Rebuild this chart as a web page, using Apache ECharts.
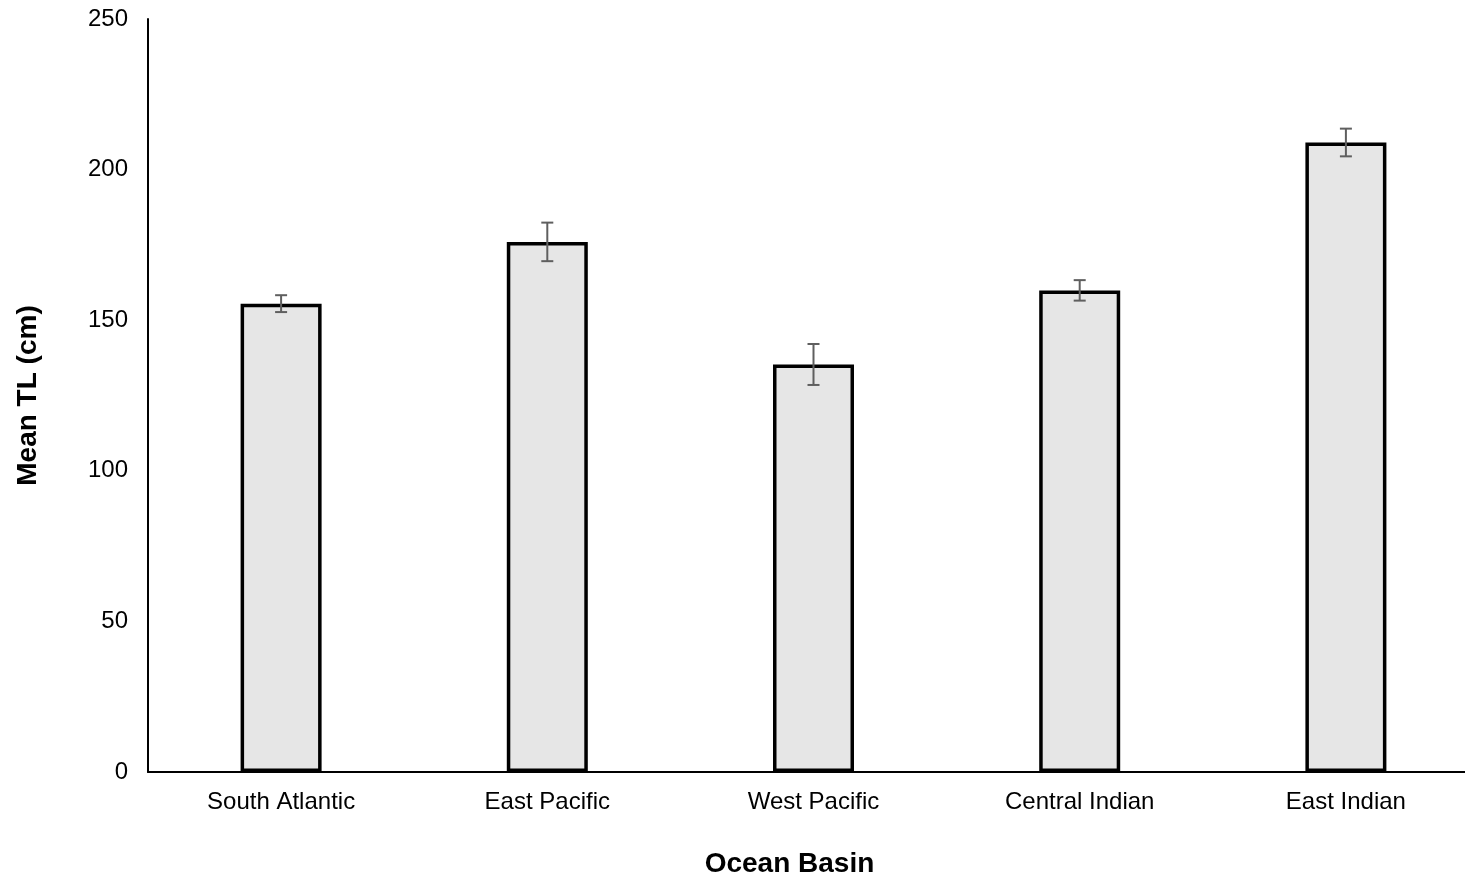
<!DOCTYPE html>
<html>
<head>
<meta charset="utf-8">
<script src="https://cdn.jsdelivr.net/npm/echarts@6/dist/echarts.min.js"></script>
<style>
  html, body { margin: 0; padding: 0; background: #fff; }
  #main { width: 1465px; height: 880px; }
</style>
</head>
<body>
<div id="main"></div>
<script>
var basins = ['South Atlantic', 'East Pacific', 'West Pacific', 'Central Indian', 'East Indian'];
var meanTL = [155.5, 176.0, 135.3, 159.9, 209.0];
var errTL = [2.8, 6.4, 6.8, 3.4, 4.6];

var chart = echarts.init(document.getElementById('main'));
var font = '"Liberation Sans", Arial, sans-serif';

// error bar data: [index, low, high]
var errData = meanTL.map(function (v, i) {
  return [i, v - errTL[i], v + errTL[i]];
});

function renderErr(params, api) {
  var x = api.value(0);
  var hi = api.coord([x, api.value(2)]);
  var lo = api.coord([x, api.value(1)]);
  var cap = 6;
  var st = { stroke: '#5f5f5f', lineWidth: 2 };
  return {
    type: 'group',
    children: [
      { type: 'line', shape: { x1: hi[0], y1: hi[1], x2: lo[0], y2: lo[1] }, style: st },
      { type: 'line', shape: { x1: hi[0] - cap, y1: hi[1], x2: hi[0] + cap, y2: hi[1] }, style: st },
      { type: 'line', shape: { x1: lo[0] - cap, y1: lo[1], x2: lo[0] + cap, y2: lo[1] }, style: st }
    ]
  };
}

var option = {
  backgroundColor: '#fff',
  animation: false,
  grid: {
    left: 148, right: -14, top: 19, bottom: 108,
    containLabel: false,
    outerBoundsMode: 'none'
  },
  xAxis: {
    type: 'category',
    data: basins,
    name: 'Ocean Basin',
    nameLocation: 'middle',
    nameGap: 78,
    nameTextStyle: {
      fontFamily: font, fontSize: 28, fontWeight: 'bold', color: '#000',
      padding: [0, 48, 0, 0]
    },
    axisLine: { lineStyle: { color: '#000', width: 2 } },
    axisTick: { show: false },
    axisLabel: { fontFamily: font, fontSize: 24, color: '#000', margin: 18 }
  },
  yAxis: {
    type: 'value',
    min: 0,
    max: 250,
    interval: 50,
    name: 'Mean TL (cm)',
    nameLocation: 'middle',
    nameGap: 106,
    nameRotate: 90,
    nameTextStyle: { fontFamily: font, fontSize: 28, fontWeight: 'bold', color: '#000' },
    axisLine: { show: true, lineStyle: { color: '#000', width: 2 } },
    axisTick: { show: false },
    splitLine: { show: false },
    axisLabel: { fontFamily: font, fontSize: 24, color: '#000', margin: 20 }
  },
  series: [
    {
      type: 'bar',
      data: meanTL,
      barWidth: 81,
      itemStyle: { color: '#e6e6e6', borderColor: '#000', borderWidth: 3.5 }
    },
    {
      type: 'custom',
      renderItem: renderErr,
      data: errData,
      z: 10
    }
  ]
};

chart.setOption(option);
</script>
</body>
</html>
